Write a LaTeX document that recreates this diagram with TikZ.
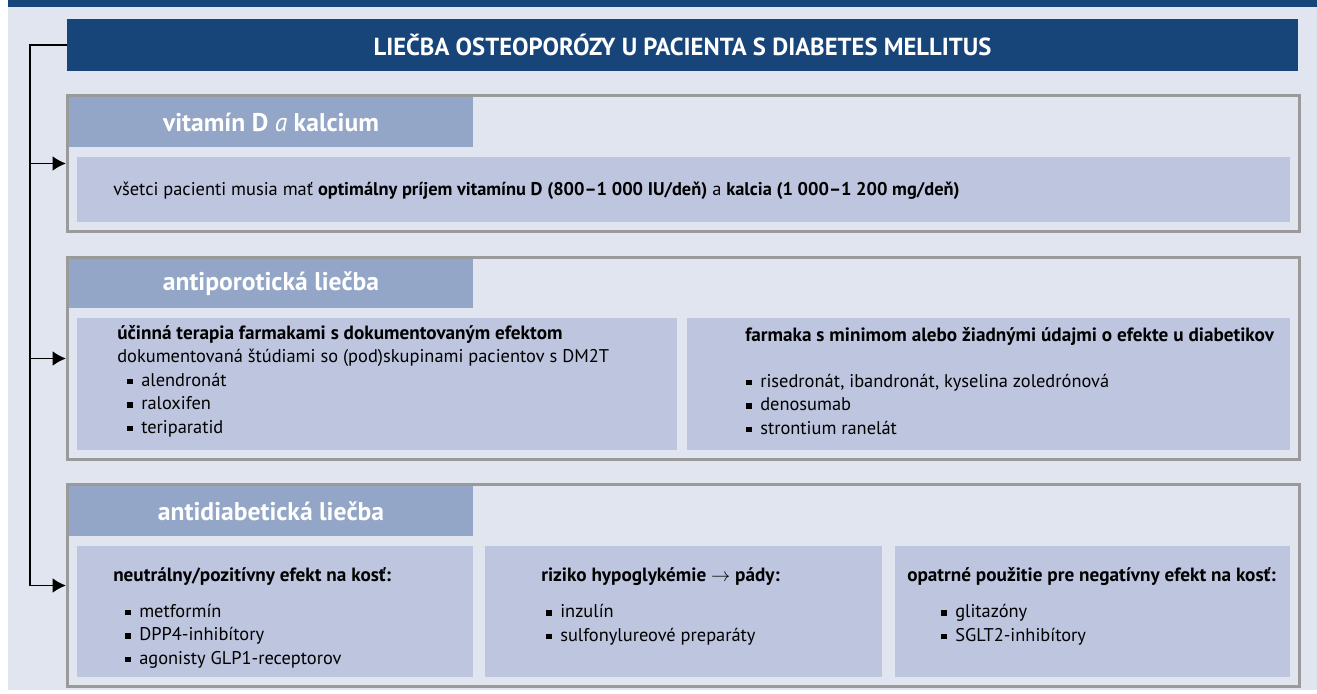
\documentclass[tikz,border=0pt]{standalone}
\usepackage{fontspec}
\setmainfont{PT Sans}
\usepackage{tikz}
\usetikzlibrary{arrows.meta,calc,fit,positioning}
\definecolor{navy}{HTML}{17457A}
\definecolor{paper}{HTML}{E1E5F0}
\definecolor{tabcol}{HTML}{93A6C8}
\definecolor{cellcol}{HTML}{BDC5DF}
\definecolor{rim}{HTML}{9A9A9A}
\newcommand{\sqb}{\rule[0.22ex]{4pt}{4pt}\hspace{6.5pt}}
\newcommand{\hb}[1]{{\fontsize{14.4}{17.6}\selectfont\bfseries #1}}
\tikzset{%
	titlebar/.style = {fill=navy, inner sep=0}, % Title bar
	titletxt/.style = {text=white, inner sep=0, font=\fontsize{18.5}{22}\selectfont\bfseries}, % Title
	section/.style  = {draw=rim, line width=2.25pt, inner sep=0}, % Frame
	tab/.style      = {fill=tabcol, inner sep=0}, % Header
	tabtxt/.style   = {text=white, inner sep=0, font=\fontsize{19.2}{22}\selectfont\bfseries}, % Header text
	cell/.style     = {fill=cellcol, inner sep=0}, % Content
	txt/.style      = {anchor=base west, inner sep=0, align=left, font=\fontsize{13.8}{17.6}\selectfont}, % Text
	arrow/.style    = {line width=1.3pt, -{Latex[length=10pt,width=11pt]}},
}
\begin{document}
\begin{tikzpicture}[x=0.75pt,y=-0.75pt]
	\useasboundingbox (0,0) rectangle (1317,693);
	\fill[paper] (8,7) rectangle (1317,690);
	\fill[navy] (8,0) rectangle (1317,7);
	
	\node [titlebar,fit={(67,19)(1298,71)}] (ttl) {};
	\node [titletxt] (ttlt) at (ttl) {LIEČBA OSTEOPORÓZY U PACIENTA S DIABETES MELLITUS};
	
	% vitamin D
	\node [section,fit={(67.5,95.5)(1299.5,231.5)}] (vd) {};
	\node [tab,fit={(69,97)(473,147)}] (vdh) {};
	\node [tabtxt] (vdht) at (vdh) {vitamín D {\mdseries\itshape a} kalcium};
	\node [cell,fit={(77,157)(1290,222)}] (vdb) {};
	\node [txt] (vdt) at (113,195) {všetci pacienti musia mať \textbf{optimálny príjem vitamínu D (800--1~000 IU/deň)} a \textbf{kalcia (1~000--1~200 mg/deň)}};
	
	% antiporoticka liecba
	\node [section,fit={(67.5,257.5)(1299.5,459.5)}] (ap) {};
	\node [tab,fit={(69,259)(473,308)}] (aph) {};
	\node [tabtxt] (apht) at (aph) {antiporotická liečba};
	\node [cell,fit={(77,318)(677,450)}] (apl) {};
	\node [cell,fit={(687,318)(1290,450)}] (apr) {};
	\node [txt] (aplt) at (117,433) {\hb{účinná terapia farmakami s dokumentovaným efektom}\\
		dokumentovaná štúdiami so (pod)skupinami pacientov s DM2T\\
		\hspace{7.5pt}\sqb alendronát\\
		\hspace{7.5pt}\sqb raloxifen\\
		\hspace{7.5pt}\sqb teriparatid};
	\node [txt] (aprt) at (745,341) {\hb{farmaka s minimom alebo žiadnými údajmi o efekte u diabetikov}};
	\node [txt] (aprl) at (746,434) {\sqb risedronát, ibandronát, kyselina zoledrónová\\
		\sqb denosumab\\
		\sqb strontium ranelát};
	
	% antidiabeticka liecba
	\node [section,fit={(67.5,484.5)(1299.5,686.5)}] (ad) {};
	\node [tab,fit={(69,486)(473,536)}] (adh) {};
	\node [tabtxt] (adht) at (adh) {antidiabetická liečba};
	\node [cell,fit={(77,546)(473,677)}] (ad1) {};
	\node [cell,fit={(485,546)(882,677)}] (ad2) {};
	\node [cell,fit={(895,546)(1290,677)}] (ad3) {};
	\node [txt] (ad1t) at (113,581) {\hb{neutrálny/pozitívny efekt na kosť:}};
	\node [txt] (ad1l) at (125,664) {\sqb metformín\\ \sqb DPP4-inhibítory\\ \sqb agonisty GLP1-receptorov};
	\node [txt] (ad2t) at (541,581) {\hb{riziko hypoglykémie $\rightarrow$ pády:}};
	\node [txt] (ad2l) at (546,641) {\sqb inzulín\\ \sqb sulfonylureové preparáty};
	\node [txt] (ad3t) at (907,581) {\hb{opatrné použitie pre negatívny efekt na kosť:}};
	\node [txt] (ad3l) at (941,641) {\sqb glitazóny\\ \sqb SGLT2-inhibítory};
	
	\coordinate (rail) at (30,45);
	\draw[arrow] (ttl.west) -- (rail) |- (ad.west);
	\draw[arrow] (rail |- vd.west) -- (vd.west);
	\draw[arrow] (rail |- ap.west) -- (ap.west);
\end{tikzpicture}
\end{document}
